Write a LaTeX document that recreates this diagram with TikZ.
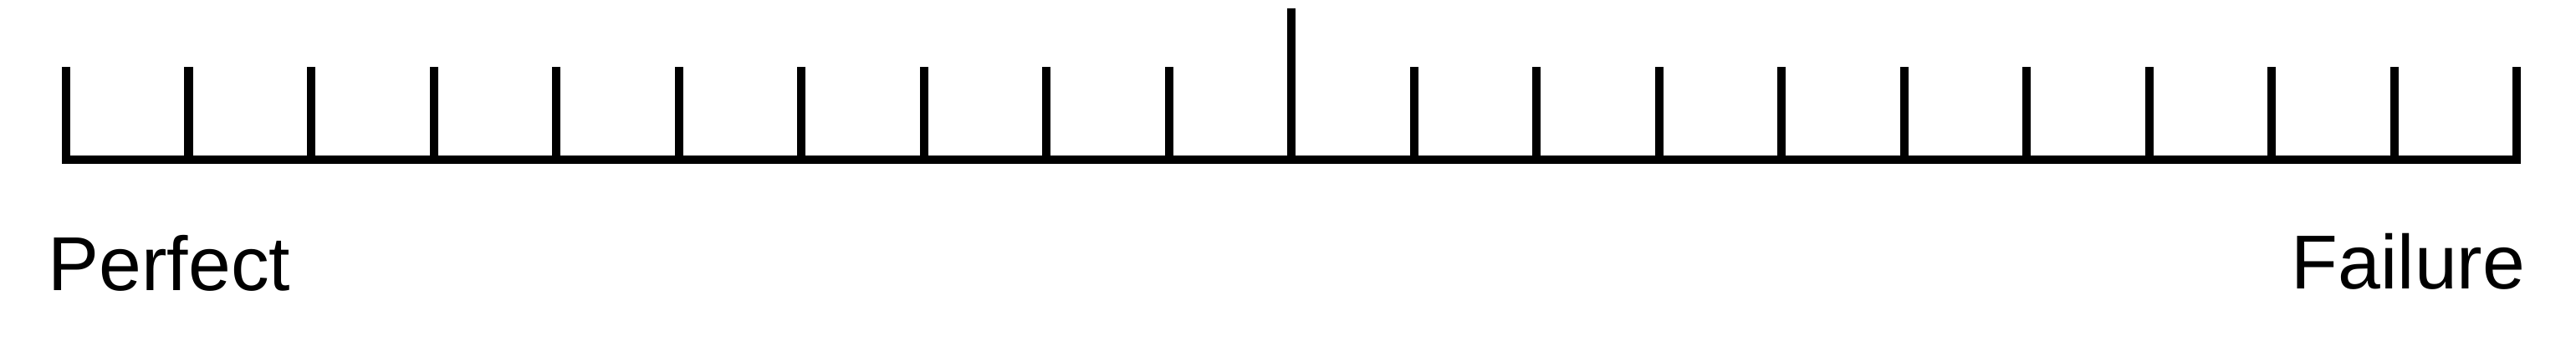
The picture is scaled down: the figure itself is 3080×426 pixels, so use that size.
\documentclass[tikz,border=0pt]{standalone}
\usepackage{fontspec}
\setmainfont{Liberation Sans}
\begin{document}
\begin{tikzpicture}[x=0.01cm,y=0.01cm,
  rule/.style={line width=0.1cm, black},
  tickline/.style={line width=0.1cm, black, line cap=butt},
  label/.style={inner sep=0pt, font=\fontsize{26pt}{30pt}\selectfont}]
\useasboundingbox (0,0) rectangle (3080,426);
% ticks
\foreach \i in {0,...,20}{
  \coordinate (b\i) at ({79+146.5*\i},235);
  \ifnum\i=10
    \coordinate (t\i) at ({79+146.5*\i},416);
  \else
    \coordinate (t\i) at ({79+146.5*\i},346);
  \fi
  \draw[tickline] (b\i) -- (t\i);
}
\draw[rule, line cap=rect] (b0) -- (b20);
\node[label, anchor=base west] (perfect) at (57,79) {Perfect};
\node[label, anchor=base east] (failure) at (3020,81) {Failure};
\end{tikzpicture}
\end{document}
